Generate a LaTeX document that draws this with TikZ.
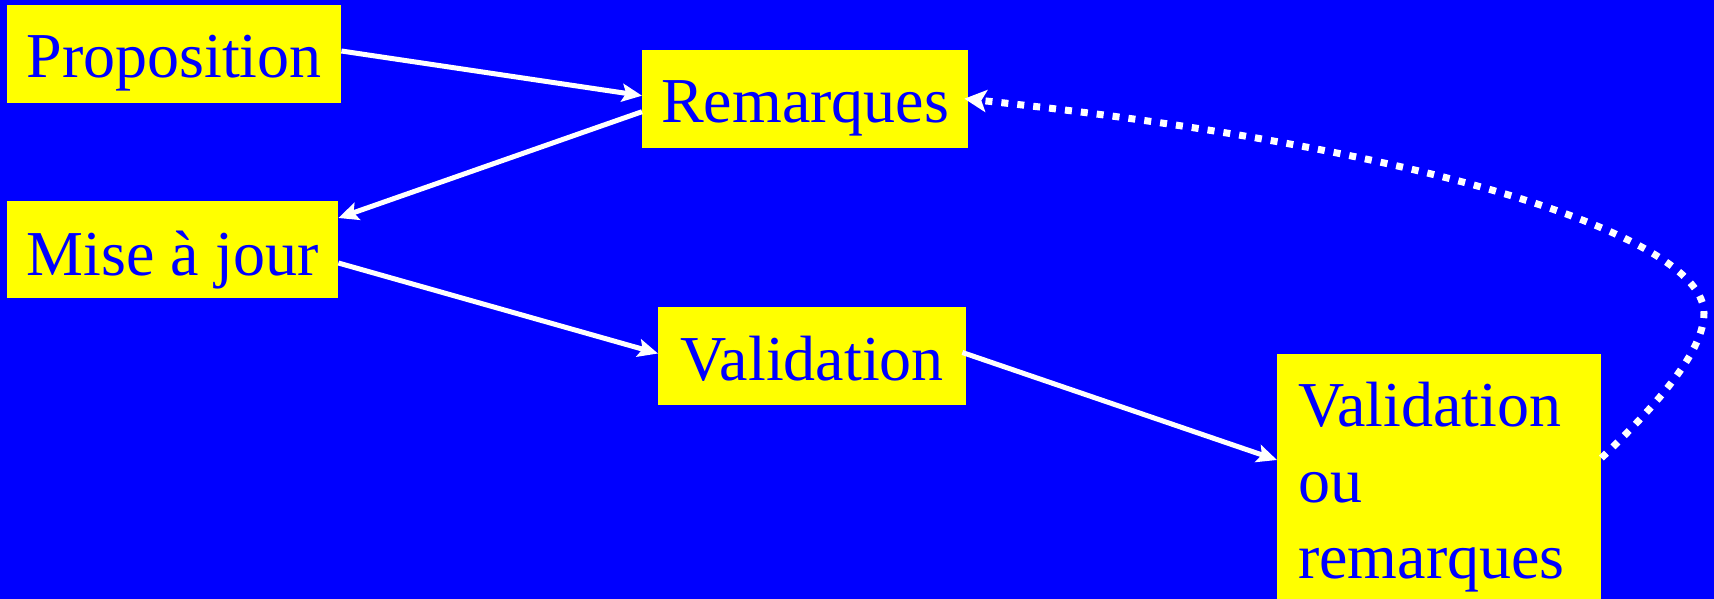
\documentclass[tikz,border=0pt]{standalone}
\usepackage{fontspec}
\setmainfont{Liberation Serif}
\usetikzlibrary{arrows.meta}
\definecolor{bgblue}{RGB}{0,0,255}
\definecolor{boxyellow}{RGB}{255,255,0}
\tikzset{
  boxbase/.style={fill=boxyellow, text=bgblue, font=\fontsize{64}{76}\selectfont},
  onebox/.style={boxbase, inner sep=0pt, text height=73pt, text depth=25pt, anchor=base west, align=center},
  flow/.style={draw=white, line width=5pt, -{Stealth[length=20pt,width=18pt,inset=4pt]}},
  dotflow/.style={draw=white, line width=7pt, dash pattern=on 7pt off 9pt, -{Stealth[length=22pt,width=22pt,inset=5pt]}}
}
\begin{document}
\begin{tikzpicture}[x=1pt,y=-1pt]
\fill[bgblue] (0,0) rectangle (1714,599);
\useasboundingbox (0,0) rectangle (1714,599);
\node[onebox, minimum width=334pt] (prop) at (7,78) {Proposition};
\node[onebox, minimum width=326pt] (rem) at (642,122.7) {Remarques};
\node[onebox, minimum width=331pt, text height=74pt, text depth=23pt] (mise) at (7,275) {Mise à jour};
\node[onebox, minimum width=308pt] (val) at (658,380) {Validation};
\node[boxbase, inner xsep=21pt, inner ysep=0pt, text width=282pt, align=left, anchor=north west] (vor) at (1277,354)
  {\rule{0pt}{72pt}Validation\\ou\\remarques\rule[-30pt]{0pt}{30pt}};
\draw[flow] ([yshift=3pt]prop.east) -- ([yshift=3pt]rem.west);
\draw[flow] ([yshift=-13pt]rem.west) -- ([yshift=31.5pt]mise.east);
\draw[flow] ([yshift=-13.5pt]mise.east) -- ([yshift=2.5pt]val.east -| val.west);
\draw[flow] ([xshift=-4pt,yshift=3.5pt]val.east) -- ([yshift=-106pt]vor.north west);
\coordinate (turn) at (1704,313);
\draw[dotflow] ([yshift=-104pt]vor.north east) .. controls (1660,402) and (1704,350) .. (turn)
  .. controls (1704,240) and (1450,150) .. ([xshift=-4pt]rem.east);
\end{tikzpicture}
\end{document}
